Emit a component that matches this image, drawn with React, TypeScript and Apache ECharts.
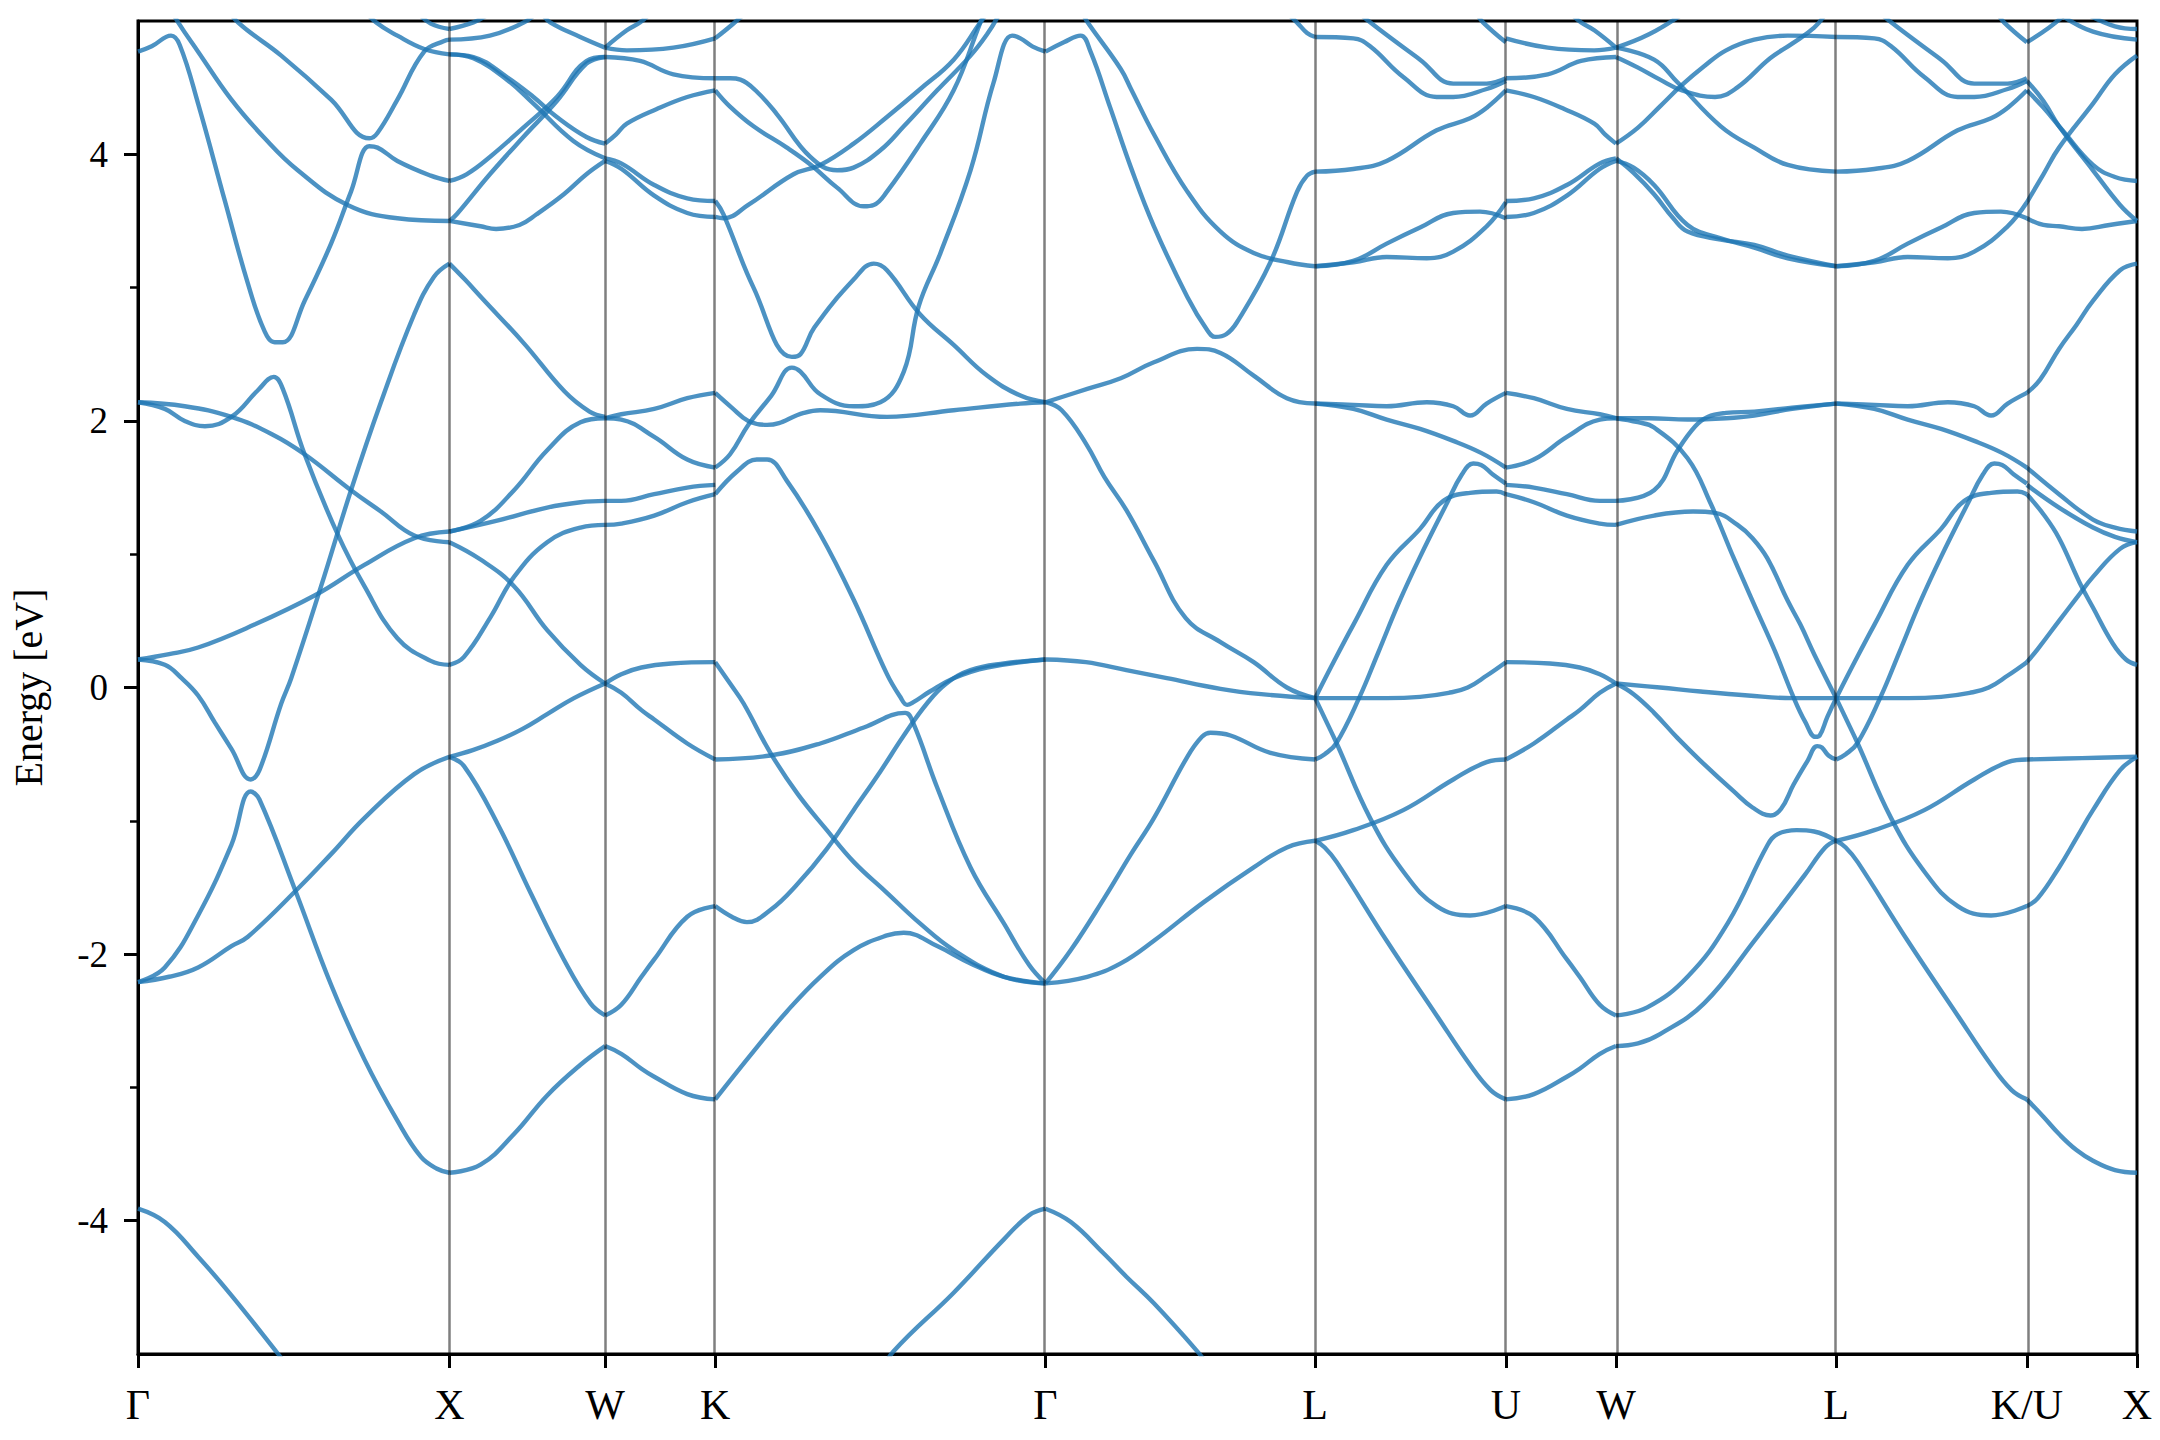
import React, { useEffect, useRef } from "react";
import * as echarts from "echarts";

// High-symmetry path (k in units of 2π/a) and labels
const K_POINTS = [0, 1, 1.5, 1.8536, 2.9142, 3.7802, 4.3926, 4.7462, 5.4533, 6.0657, 6.4193];
const K_LABELS = ["Γ", "X", "W", "K", "Γ", "L", "U", "W", "L", "K/U", "X"];
const Y_MAJOR = [-4, -2, 0, 2, 4];
const Y_MINOR = [-3, -1, 1, 3];

type Curve = number[][]; // [t along segment (0..1), energy eV]

const GX: Curve[] = [
  [[0,-3.91],[0.086,-4.01],[0.193,-4.27],[0.30,-4.56],[0.45,-5.0],[0.5,-5.15]],
  [[0,-2.21],[0.1,-2.17],[0.193,-2.10],[0.30,-1.94],[0.353,-1.87],[0.513,-1.51],[0.62,-1.25],[0.727,-0.98],[0.887,-0.65],[1,-0.52]],
  [[0,-2.21],[0.086,-2.10],[0.193,-1.71],[0.30,-1.18],[0.362,-0.78],[0.39,-0.84],[0.503,-1.51],[0.62,-2.23],[0.727,-2.79],[0.833,-3.25],[0.908,-3.52],[0.96,-3.61],[1,-3.64]],
  [[0,0.21],[0.086,0.17],[0.14,0.07],[0.193,-0.06],[0.246,-0.26],[0.30,-0.46],[0.362,-0.69],[0.39,-0.62],[0.46,-0.12],[0.492,0.07],[0.588,0.76],[0.684,1.48],[0.78,2.14],[0.887,2.80],[0.95,3.08],[1,3.18]],
  [[0,0.21],[0.1,0.25],[0.193,0.30],[0.353,0.45],[0.567,0.69],[0.727,0.92],[0.887,1.12],[1,1.17]],
  [[0,2.14],[0.15,2.11],[0.3,2.03],[0.43,1.90],[0.535,1.75],[0.684,1.48],[0.78,1.32],[0.887,1.14],[1,1.09]],
  [[0,2.14],[0.086,2.09],[0.15,2.0],[0.215,1.96],[0.30,2.03],[0.385,2.23],[0.436,2.33],[0.465,2.24],[0.535,1.75],[0.641,1.15],[0.727,0.76],[0.833,0.37],[0.94,0.20],[1,0.17]],
  [[0,4.77],[0.044,4.81],[0.106,4.89],[0.134,4.82],[0.193,4.38],[0.279,3.65],[0.353,3.03],[0.407,2.67],[0.439,2.59],[0.465,2.59],[0.535,2.90],[0.62,3.33],[0.684,3.72],[0.743,4.06],[0.769,4.05],[0.833,3.95],[0.94,3.84],[1,3.80]],
  [[0.09,5.15],[0.129,4.99],[0.193,4.77],[0.30,4.41],[0.407,4.12],[0.513,3.88],[0.673,3.62],[0.833,3.52],[1,3.50]],
  [[0.28,5.12],[0.321,4.99],[0.46,4.74],[0.62,4.41],[0.743,4.12],[0.769,4.16],[0.833,4.41],[0.919,4.77],[0.983,4.85],[1,4.86]],
  [[0.72,5.1],[0.764,4.99],[0.833,4.89],[0.919,4.79],[1,4.75]],
  [[0.9,5.06],[0.94,4.98],[1,4.94]],
];

const XW: Curve[] = [
  [[0,-3.64],[0.2,-3.58],[0.415,-3.35],[0.628,-3.06],[0.842,-2.83],[1,-2.69]],
  [[0,-0.52],[0.094,-0.59],[0.308,-1.02],[0.521,-1.54],[0.735,-2.04],[0.906,-2.37],[1,-2.46]],
  [[0,-0.52],[0.15,-0.47],[0.308,-0.40],[0.47,-0.31],[0.628,-0.20],[0.8,-0.08],[1,0.03]],
  [[0,0.17],[0.094,0.23],[0.265,0.53],[0.415,0.83],[0.628,1.09],[0.842,1.20],[1,1.22]],
  [[0,1.09],[0.2,0.96],[0.415,0.76],[0.628,0.43],[0.842,0.17],[1,0.03]],
  [[0,1.17],[0.2,1.25],[0.415,1.48],[0.628,1.78],[0.842,1.99],[1,2.02]],
  [[0,1.17],[0.3,1.25],[0.628,1.35],[0.842,1.39],[1,1.40]],
  [[0,3.18],[0.1,3.06],[0.21,2.92],[0.48,2.58],[0.74,2.22],[0.9,2.07],[1,2.03]],
  [[0,3.80],[0.11,3.85],[0.26,3.98],[0.475,4.20],[0.69,4.43],[0.88,4.70],[1,4.73]],
  [[0,3.50],[0.047,3.55],[0.26,3.85],[0.475,4.13],[0.69,4.40],[0.88,4.68],[1,4.73]],
  [[0,3.50],[0.2,3.46],[0.3,3.44],[0.45,3.47],[0.56,3.55],[0.735,3.70],[0.88,3.85],[1,3.95]],
  [[0,4.75],[0.154,4.73],[0.369,4.58],[0.54,4.43],[0.69,4.28],[0.88,4.13],[1,4.08]],
  [[0,4.75],[0.154,4.72],[0.369,4.56],[0.54,4.38],[0.796,4.10],[1,3.97]],
  [[0,4.86],[0.26,4.89],[0.48,4.99],[0.55,5.05]],
  [[0,4.94],[0.154,4.99],[0.25,5.05]],
  [[0.6,5.05],[0.647,4.99],[0.84,4.88],[1,4.80]],
];

const WK: Curve[] = [
  [[0,-2.69],[0.15,-2.75],[0.33,-2.86],[0.446,-2.92],[0.746,-3.05],[1,-3.09]],
  [[0,-2.46],[0.147,-2.38],[0.33,-2.17],[0.446,-2.04],[0.746,-1.72],[1,-1.64]],
  [[0,0.03],[0.147,-0.04],[0.33,-0.17],[0.446,-0.24],[0.746,-0.42],[1,-0.54]],
  [[0,0.03],[0.147,0.10],[0.33,0.15],[0.6,0.18],[1,0.19]],
  [[0,1.22],[0.147,1.23],[0.446,1.29],[0.746,1.39],[1,1.45]],
  [[0,1.40],[0.147,1.40],[0.446,1.45],[0.746,1.50],[1,1.52]],
  [[0,2.02],[0.147,2.05],[0.446,2.09],[0.746,2.17],[1,2.21]],
  [[0,2.02],[0.147,2.01],[0.446,1.88],[0.746,1.71],[1,1.65]],
  [[0,3.97],[0.15,3.93],[0.446,3.77],[0.746,3.67],[1,3.65]],
  [[0,3.95],[0.15,3.89],[0.446,3.69],[0.746,3.56],[1,3.53]],
  [[0,4.08],[0.1,4.15],[0.197,4.23],[0.47,4.34],[0.746,4.43],[1,4.48]],
  [[0,4.73],[0.317,4.70],[0.62,4.60],[1,4.57]],
  [[0,4.80],[0.197,4.78],[0.62,4.80],[1,4.87]],
  [[0,4.80],[0.197,4.93],[0.32,4.99],[0.4,5.05]],
];

const KG: Curve[] = [
  [[0,-3.09],[0.116,-2.73],[0.217,-2.43],[0.318,-2.17],[0.419,-1.97],[0.52,-1.86],[0.571,-1.84],[0.672,-1.94],[0.773,-2.07],[0.874,-2.17],[1,-2.22]],
  [[0.5,-5.15],[0.54,-4.98],[0.722,-4.54],[0.874,-4.14],[0.95,-3.96],[1,-3.91]],
  [[0,-1.64],[0.05,-1.72],[0.096,-1.76],[0.167,-1.67],[0.247,-1.48],[0.338,-1.21],[0.419,-0.92],[0.5,-0.63],[0.571,-0.36],[0.641,-0.12],[0.7,0.03],[0.773,0.13],[0.874,0.18],[1,0.21]],
  [[0,0.19],[0.045,0.03],[0.086,-0.12],[0.167,-0.49],[0.25,-0.80],[0.338,-1.07],[0.42,-1.31],[0.52,-1.54],[0.62,-1.77],[0.722,-1.97],[0.874,-2.17],[1,-2.22]],
  [[0,-0.54],[0.167,-0.51],[0.318,-0.42],[0.45,-0.30],[0.575,-0.19],[0.6,-0.27],[0.672,-0.75],[0.773,-1.35],[0.874,-1.77],[0.95,-2.08],[1,-2.22]],
  [[0,1.45],[0.066,1.62],[0.126,1.71],[0.157,1.71],[0.217,1.55],[0.318,1.15],[0.419,0.66],[0.52,0.10],[0.56,-0.07],[0.581,-0.13],[0.60,-0.11],[0.65,-0.03],[0.722,0.07],[0.823,0.15],[1,0.21]],
  [[0,2.21],[0.05,2.10],[0.1,2.0],[0.157,1.97],[0.268,2.06],[0.318,2.08],[0.52,2.03],[0.722,2.08],[0.924,2.13],[1,2.14]],
  [[0,1.65],[0.045,1.75],[0.1,1.97],[0.17,2.19],[0.232,2.40],[0.258,2.37],[0.318,2.20],[0.42,2.11],[0.5,2.14],[0.571,2.37],[0.616,2.86],[0.682,3.26],[0.773,3.88],[0.843,4.54],[0.899,4.89],[0.924,4.87],[0.96,4.81],[1,4.77]],
  [[0,3.65],[0.025,3.55],[0.116,3.0],[0.232,2.48],[0.258,2.50],[0.3,2.70],[0.419,3.06],[0.48,3.18],[0.52,3.13],[0.62,2.80],[0.722,2.57],[0.823,2.34],[0.924,2.19],[1,2.14]],
  [[0,3.53],[0.025,3.52],[0.1,3.62],[0.237,3.85],[0.318,3.92],[0.419,4.08],[0.52,4.28],[0.621,4.49],[0.722,4.71],[0.803,4.99],[0.83,5.08]],
  [[0,4.48],[0.044,4.36],[0.116,4.21],[0.217,4.05],[0.29,3.92],[0.369,3.75],[0.45,3.61],[0.48,3.62],[0.52,3.72],[0.621,4.08],[0.722,4.48],[0.803,4.99],[0.82,5.08]],
  [[0,4.57],[0.045,4.57],[0.076,4.56],[0.13,4.46],[0.187,4.30],[0.288,3.98],[0.369,3.88],[0.419,3.90],[0.5,4.03],[0.571,4.21],[0.672,4.48],[0.773,4.74],[0.823,4.90],[0.86,5.05]],
  [[0,4.87],[0.05,4.97],[0.1,5.08]],
];

const GL: Curve[] = [
  [[0,-3.91],[0.094,-4.01],[0.218,-4.25],[0.3,-4.42],[0.402,-4.62],[0.563,-4.98],[0.6,-5.08]],
  [[0,-2.22],[0.155,-2.17],[0.279,-2.07],[0.402,-1.90],[0.587,-1.61],[0.772,-1.35],[0.895,-1.20],[1,-1.15]],
  [[0,-2.22],[0.094,-1.97],[0.218,-1.58],[0.317,-1.25],[0.402,-0.98],[0.526,-0.52],[0.58,-0.37],[0.612,-0.34],[0.686,-0.36],[0.834,-0.49],[1,-0.54]],
  [[0,0.21],[0.15,0.19],[0.3,0.13],[0.45,0.07],[0.649,-0.01],[0.8,-0.05],[1,-0.08]],
  [[0,2.14],[0.06,2.08],[0.15,1.83],[0.218,1.58],[0.3,1.33],[0.402,0.95],[0.52,0.52],[0.649,0.34],[0.772,0.19],[0.895,0.0],[1,-0.08]],
  [[0,2.14],[0.155,2.24],[0.279,2.32],[0.402,2.44],[0.562,2.54],[0.649,2.51],[0.772,2.34],[0.895,2.17],[1,2.13]],
  [[0,4.77],[0.068,4.84],[0.13,4.89],[0.167,4.77],[0.24,4.35],[0.317,3.90],[0.402,3.46],[0.526,2.93],[0.6,2.68],[0.63,2.63],[0.67,2.65],[0.71,2.74],[0.834,3.19],[0.933,3.72],[0.97,3.84],[1,3.87]],
  [[0.14,5.05],[0.156,4.99],[0.279,4.64],[0.317,4.49],[0.402,4.15],[0.526,3.72],[0.649,3.42],[0.772,3.26],[0.9,3.19],[1,3.16]],
  [[0.9,5.05],[0.932,4.99],[0.97,4.91],[1,4.88]],
];

const LU: Curve[] = [
  [[0,-1.15],[0.05,-1.2],[0.113,-1.31],[0.375,-1.90],[0.637,-2.46],[0.812,-2.83],[0.92,-3.02],[1,-3.09]],
  [[0,-1.15],[0.2,-1.07],[0.462,-0.92],[0.724,-0.69],[0.899,-0.56],[1,-0.54]],
  [[0,-0.54],[0.05,-0.50],[0.11,-0.42],[0.23,-0.08],[0.33,0.26],[0.44,0.64],[0.55,0.98],[0.69,1.38],[0.77,1.60],[0.829,1.68],[0.87,1.67],[0.93,1.60],[1,1.53]],
  [[0,-0.08],[0.1,0.20],[0.2,0.47],[0.375,0.92],[0.55,1.19],[0.672,1.40],[0.812,1.46],[0.951,1.47],[1,1.45]],
  [[0,-0.08],[0.2,-0.08],[0.375,-0.08],[0.55,-0.07],[0.7,-0.04],[0.8,0.0],[0.9,0.09],[1,0.19]],
  [[0,-0.08],[0.05,-0.23],[0.113,-0.42],[0.288,-0.98],[0.462,-1.38],[0.637,-1.64],[0.812,-1.71],[1,-1.64]],
  [[0,2.13],[0.2,2.12],[0.375,2.11],[0.585,2.14],[0.724,2.11],[0.812,2.04],[0.899,2.13],[1,2.21]],
  [[0,2.13],[0.2,2.09],[0.375,2.01],[0.55,1.94],[0.724,1.85],[0.87,1.76],[1,1.65]],
  [[0,3.16],[0.2,3.20],[0.375,3.33],[0.55,3.45],[0.724,3.56],[0.864,3.57],[1,3.52]],
  [[0,3.16],[0.2,3.19],[0.375,3.23],[0.585,3.22],[0.724,3.27],[0.899,3.46],[1,3.64]],
  [[0,3.87],[0.2,3.89],[0.375,3.95],[0.637,4.18],[0.812,4.27],[0.9,4.35],[1,4.48]],
  [[0,4.88],[0.2,4.87],[0.288,4.81],[0.462,4.58],[0.637,4.43],[0.724,4.43],[0.899,4.49],[1,4.55]],
  [[0.2,5.1],[0.288,4.99],[0.55,4.71],[0.724,4.53],[0.899,4.53],[1,4.57]],
  [[0.85,5.05],[0.88,4.99],[1,4.84]],
];

const WL: Curve[] = [
  [[0,-2.69],[0.1,-2.67],[0.2,-2.60],[0.4,-2.37],[0.628,-1.90],[0.856,-1.41],[0.95,-1.2],[1,-1.15]],
  [[0,-2.46],[0.142,-2.40],[0.325,-2.17],[0.507,-1.77],[0.689,-1.18],[0.734,-1.10],[0.82,-1.07],[0.9,-1.08],[1,-1.15]],
  [[0,0.03],[0.08,-0.05],[0.173,-0.19],[0.28,-0.38],[0.384,-0.55],[0.535,-0.78],[0.62,-0.9],[0.702,-0.96],[0.75,-0.91],[0.806,-0.73],[0.87,-0.55],[0.914,-0.44],[0.935,-0.45],[0.965,-0.51],[1,-0.54]],
  [[0,0.03],[0.2,0.0],[0.384,-0.03],[0.6,-0.06],[0.8,-0.08],[1,-0.08]],
  [[0,3.95],[0.08,3.90],[0.173,3.77],[0.325,3.47],[0.476,3.37],[0.628,3.30],[0.78,3.22],[1,3.16]],
  [[0,3.97],[0.08,3.86],[0.173,3.70],[0.26,3.52],[0.325,3.42],[0.476,3.36],[0.628,3.32],[0.78,3.24],[1,3.16]],
  [[0,4.08],[0.1,4.20],[0.2,4.36],[0.3,4.52],[0.4,4.66],[0.5,4.78],[0.628,4.86],[0.78,4.89],[1,4.88]],
  [[0,4.73],[0.1,4.65],[0.2,4.56],[0.3,4.48],[0.45,4.43],[0.55,4.50],[0.7,4.72],[0.8,4.83],[0.9,4.95],[0.95,5.05]],
  [[0,4.80],[0.173,4.71],[0.279,4.54],[0.476,4.21],[0.628,4.05],[0.78,3.92],[1,3.87]],
  [[0,4.80],[0.15,4.90],[0.3,5.05]],
  [[0,2.02],[0.15,2.02],[0.325,2.01],[0.5,2.02],[0.628,2.04],[0.8,2.09],[1,2.13]],
  [[0,1.40],[0.173,1.48],[0.28,1.78],[0.36,1.96],[0.416,2.03],[0.5,2.06],[0.628,2.07],[0.8,2.10],[1,2.13]],
  [[0,2.02],[0.1,1.99],[0.173,1.95],[0.325,1.72],[0.43,1.38],[0.535,0.97],[0.628,0.62],[0.72,0.28],[0.808,-0.08],[0.86,-0.26],[0.906,-0.37],[0.925,-0.36],[0.96,-0.22],[1,-0.08]],
  [[0,1.22],[0.173,1.29],[0.35,1.32],[0.45,1.31],[0.552,1.22],[0.62,1.12],[0.687,0.97],[0.78,0.65],[0.838,0.47],[0.9,0.25],[1,-0.08]],
];

const UX: Curve[] = [
  [[0,-3.09],[0.15,-3.22],[0.292,-3.35],[0.45,-3.47],[0.6,-3.55],[0.8,-3.62],[1,-3.64]],
  [[0,-1.64],[0.1,-1.58],[0.292,-1.35],[0.45,-1.13],[0.6,-0.92],[0.846,-0.62],[1,-0.52]],
  [[0,-0.54],[0.5,-0.53],[1,-0.52]],
  [[0,0.19],[0.1,0.29],[0.292,0.50],[0.45,0.67],[0.6,0.83],[0.846,1.04],[1,1.09]],
  [[0,1.65],[0.292,1.45],[0.6,1.26],[0.8,1.20],[1,1.17]],
  [[0,1.52],[0.292,1.35],[0.6,1.20],[0.8,1.13],[1,1.09]],
  [[0,1.45],[0.15,1.30],[0.292,1.12],[0.477,0.79],[0.6,0.60],[0.78,0.33],[0.9,0.21],[1,0.17]],
  [[0,2.21],[0.12,2.31],[0.292,2.54],[0.45,2.72],[0.6,2.90],[0.846,3.13],[1,3.18]],
  [[0,3.64],[0.15,3.85],[0.292,4.05],[0.6,4.38],[0.8,4.60],[1,4.74]],
  [[0,3.52],[0.15,3.47],[0.292,3.46],[0.5,3.44],[0.75,3.47],[1,3.50]],
  [[0,4.48],[0.15,4.35],[0.323,4.18],[0.6,3.92],[0.8,3.83],[1,3.80]],
  [[0,4.55],[0.15,4.40],[0.292,4.21],[0.6,3.88],[0.846,3.62],[1,3.50]],
  [[0,4.84],[0.2,4.95],[0.35,5.05]],
  [[0.55,5.05],[0.8,4.96],[1,4.94]],
  [[0.3,5.05],[0.6,4.92],[1,4.86]],
];

// segment list: [start index, end index, curves, mirrored]
const SEGMENTS: [number, number, Curve[], boolean][] = [
  [0, 1, GX, false],
  [1, 2, XW, false],
  [2, 3, WK, false],
  [3, 4, KG, false],
  [4, 5, GL, false],
  [5, 6, LU, false],
  [6, 7, WK, true],
  [7, 8, WL, false],
  [8, 9, LU, false],
  [9, 10, UX, false],
];

const LINE_COLOR = "#1f77b4";
const SERIF = "'Liberation Serif', 'DejaVu Serif', serif";

export default function App() {
  const ref = useRef<HTMLDivElement>(null);

  useEffect(() => {
    if (!ref.current) return;
    const chart = echarts.init(ref.current, undefined, { renderer: "svg" });

    const series: any[] = [];
    SEGMENTS.forEach(([a, b, curves, mirror]) => {
      const k0 = K_POINTS[a];
      const k1 = K_POINTS[b];
      curves.forEach((c) => {
        let pts = c.map(([t, e]) => {
          const tt = mirror ? 1 - t : t;
          return [k0 + tt * (k1 - k0), e];
        });
        if (mirror) pts = pts.slice().reverse();
        series.push({
          type: "line",
          data: pts,
          showSymbol: false,
          symbol: "none",
          smooth: 0.42,
          silent: true,
          clip: true,
          lineStyle: { color: LINE_COLOR, width: 4.4, opacity: 0.8 },
          z: 2,
        });
      });
    });

    series.push({
      type: "line",
      data: [],
      silent: true,
      markLine: {
        silent: true,
        symbol: ["none", "none"],
        label: { show: false },
        lineStyle: { color: "rgba(0,0,0,0.5)", width: 2.5, type: "solid" },
        data: K_POINTS.slice(1, -1).map((k) => ({ xAxis: k })),
        z: 3,
      },
    });

    const labelFor = (v: number) => {
      const i = K_POINTS.findIndex((k) => Math.abs(k - v) < 1e-6);
      return i >= 0 ? K_LABELS[i] : "";
    };

    chart.setOption({
      animation: false,
      backgroundColor: "#ffffff",
      grid: {
        left: 136,
        right: 23,
        top: 21,
        bottom: 86,
        show: true,
        borderColor: "#000",
        borderWidth: 3,
        backgroundColor: "transparent",
      },
      xAxis: {
        type: "value",
        min: 0,
        max: K_POINTS[K_POINTS.length - 1],
        splitLine: { show: false },
        axisLine: { onZero: false, lineStyle: { color: "#000", width: 3 } },
        axisTick: {
          customValues: K_POINTS,
          length: 14,
          lineStyle: { color: "#000", width: 3 },
        },
        axisLabel: {
          customValues: K_POINTS,
          formatter: (v: number) => labelFor(v),
          fontFamily: SERIF,
          fontSize: 42,
          color: "#000",
          margin: 30,
        },
      },
      yAxis: [
        {
          type: "value",
          min: -5,
          max: 5,
          name: "Energy [eV]",
          nameLocation: "middle",
          nameGap: 90,
          nameTextStyle: { fontFamily: SERIF, fontSize: 40, color: "#000" },
          splitLine: { show: false },
          axisLine: { onZero: false, lineStyle: { color: "#000", width: 3 } },
          axisTick: {
            customValues: Y_MAJOR,
            length: 14,
            lineStyle: { color: "#000", width: 3 },
          },
          axisLabel: {
            customValues: Y_MAJOR,
            fontFamily: SERIF,
            fontSize: 37,
            color: "#000",
            margin: 30,
          },
        },
        {
          type: "value",
          min: -5,
          max: 5,
          position: "left",
          splitLine: { show: false },
          axisLine: { show: false, onZero: false },
          axisLabel: { show: false },
          axisTick: {
            customValues: Y_MINOR,
            length: 8,
            lineStyle: { color: "#000", width: 2.5 },
          },
        },
      ],
      series,
    });

    return () => chart.dispose();
  }, []);

  return (
    <div
      ref={ref}
      style={{ position: "absolute", left: 0, top: 0, width: 2160, height: 1440 }}
    />
  );
}
